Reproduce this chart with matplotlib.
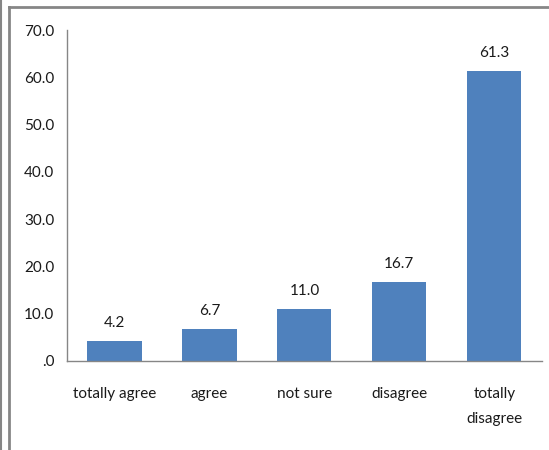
import matplotlib

matplotlib.use("Agg")

import matplotlib.pyplot as plt
from matplotlib.lines import Line2D

categories = ["totally agree", "agree", "not sure", "disagree", "totally\ndisagree"]
values = [4.2, 6.7, 11.0, 16.7, 61.3]
y_ticks = [0, 10, 20, 30, 40, 50, 60, 70]

BAR_COLOR = "#4F81BD"
AXIS_GRAY = "#868686"
TEXT_COLOR = "#1a1a1a"
FS = 11

plt.rcParams["font.family"] = ["Lato", "DejaVu Sans"]
plt.rcParams["font.size"] = FS


def tick_label(v):
    s = f"{v:.1f}"
    return s[1:] if s.startswith("0") else s


fig = plt.figure(figsize=(5.49, 4.5), dpi=100)
fig.patch.set_facecolor("white")

ax = fig.add_axes([0.122, 0.198, 0.865, 0.735])
x = range(len(categories))
bars = ax.bar(x, values, width=0.57, color=BAR_COLOR, zorder=2)

for rect, v in zip(bars, values):
    ax.annotate(f"{v:.1f}", (rect.get_x() + rect.get_width() / 2, v),
                xytext=(0, 8), textcoords="offset points",
                ha="center", va="bottom", fontsize=FS, color=TEXT_COLOR)

ax.set_xlim(-0.5, len(categories) - 0.5)
ax.set_ylim(0, 70)
ax.set_yticks(y_ticks)
ax.set_yticklabels([tick_label(v) for v in y_ticks])
ax.set_xticks(list(x))
ax.set_xticklabels(categories, linespacing=2.0)
ax.tick_params(axis="y", length=0, pad=9, colors=TEXT_COLOR, labelsize=FS)
ax.tick_params(axis="x", length=0, pad=19, colors=TEXT_COLOR, labelsize=FS)
for lab in ax.get_xticklabels():
    lab.set_verticalalignment("top")

for side in ("top", "right"):
    ax.spines[side].set_visible(False)
for side in ("left", "bottom"):
    ax.spines[side].set_color(AXIS_GRAY)
    ax.spines[side].set_linewidth(1.0)

# chart frame: outer left rule plus the inner frame's top and left edges
W, H = 549, 450
def px_line(x0, y0, x1, y1, lw=2.0):
    fig.add_artist(Line2D([x0 / W, x1 / W], [1 - y0 / H, 1 - y1 / H],
                          transform=fig.transFigure, color=AXIS_GRAY, lw=lw))

px_line(1, 0, 1, 450, lw=1.5)
px_line(8.5, 6.5, 549, 6.5)
px_line(8.5, 6.5, 8.5, 450)

fig.savefig("out.png", dpi=100)
